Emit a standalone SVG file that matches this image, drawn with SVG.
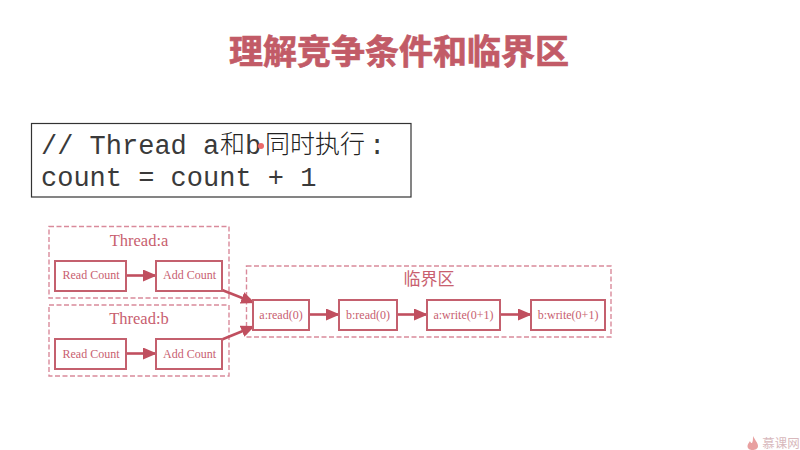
<svg xmlns="http://www.w3.org/2000/svg" width="800" height="450" viewBox="0 0 800 450">
<style>
text{font-family:"Liberation Serif","Noto Sans CJK SC",serif;fill:#c8606f;text-anchor:middle}
.title{font-family:"Liberation Sans","Noto Sans CJK SC",sans-serif;font-size:34px;font-weight:700;fill:#c25b67;stroke:#c25b67;stroke-width:.7}
.code{font-family:"Liberation Mono","Noto Sans CJK SC",monospace;font-size:27px;fill:#3a3a3a;text-anchor:start}
.han{font-family:"Noto Sans CJK SC",sans-serif;font-size:25px;font-weight:300;fill:#222}
.cl{fill:none;stroke:#d98a9b;stroke-width:1.4;stroke-dasharray:5 2.5}
.n{fill:#fff;stroke:#c4606e;stroke-width:2}
.lab{font-size:12px}
.cap{font-size:16.5px}
.capz{font-family:"Noto Sans CJK SC",sans-serif;font-size:17px}
.e{fill:none;stroke:#c04f5f;stroke-width:2.6;marker-end:url(#a)}
</style>
<defs>
<marker id="a" markerUnits="userSpaceOnUse" markerWidth="15" markerHeight="13" refX="14" refY="6" orient="auto">
<path d="M0 0L14 6L0 12Z" fill="#c04f5f"/>
</marker>
</defs>
<rect width="800" height="450" fill="#fff"/>
<text class="title" x="399" y="64">理解竞争条件和临界区</text>
<g id="code">
<rect x="31.500" y="123.500" width="379.500" height="73.500" fill="#fff" stroke="#333" stroke-width="1.200"/>
<text class="code" x="41" y="154">// Thread a</text>
<text class="code han" x="220" y="153">和</text>
<text class="code" x="245" y="154">b</text>
<text class="code han" x="265" y="153">同时执行</text>
<text class="code" x="369" y="154">:</text>
<text class="code" x="41" y="186">count = count + 1</text>
<circle cx="261" cy="146" r="3" fill="#ec6a6a"/>
</g>
<g id="thread-a">
<rect class="cl" x="49" y="226.500" width="180" height="71.500"/>
<text class="cap" x="139" y="245.500">Thread:a</text>
</g>
<g id="thread-b">
<rect class="cl" x="49" y="305" width="180" height="71"/>
<text class="cap" x="139" y="324">Thread:b</text>
</g>
<g id="critical">
<rect class="cl" x="246.500" y="266" width="364.500" height="71"/>
<text class="capz" x="429" y="284.500">临界区</text>
</g>
<g id="connectors">
<path class="e" d="M126 275.500H157"/>
<path class="e" d="M126 353.500H157"/>
<path class="e" d="M222 290L255 303"/>
<path class="e" d="M222 339.500L255 326"/>
<path class="e" d="M309 314.500H340"/>
<path class="e" d="M397 314.500H428"/>
<path class="e" d="M500 314.500H532"/>
</g>
<g id="n1"><rect class="n" x="55" y="261" width="71" height="30"/><text class="lab" x="91" y="279">Read Count</text></g>
<g id="n2"><rect class="n" x="156" y="261" width="66" height="30"/><text class="lab" x="189.500" y="279">Add Count</text></g>
<g id="n3"><rect class="n" x="55" y="339" width="71" height="30"/><text class="lab" x="91" y="357.500">Read Count</text></g>
<g id="n4"><rect class="n" x="156" y="339" width="66" height="30"/><text class="lab" x="189.500" y="357.500">Add Count</text></g>
<g id="n5"><rect class="n" x="253" y="300" width="56" height="30"/><text class="lab" x="281" y="318.500">a:read(0)</text></g>
<g id="n6"><rect class="n" x="339" y="300" width="58" height="30"/><text class="lab" x="368" y="318.500">b:read(0)</text></g>
<g id="n7"><rect class="n" x="427" y="300" width="73" height="30"/><text class="lab" x="463.500" y="318.500">a:write(0+1)</text></g>
<g id="n8"><rect class="n" x="531" y="300" width="74" height="30"/><text class="lab" x="568" y="318.500">b:write(0+1)</text></g>
<g id="watermark">
<path d="M753 436C755 440 758 443 758 446C758 449 755 450 752.500 450C750 450 747.500 449 747.500 446C747.500 444 749 443 750 441C750.500 442.500 751 443 752 443C753 441 753 439 753 436Z" fill="#e8a0a0"/>
<text x="781" y="447.500" style="font-family:'Noto Sans CJK SC',sans-serif;font-size:12.500px;fill:#d8b8bc">慕课网</text>
</g>
</svg>
